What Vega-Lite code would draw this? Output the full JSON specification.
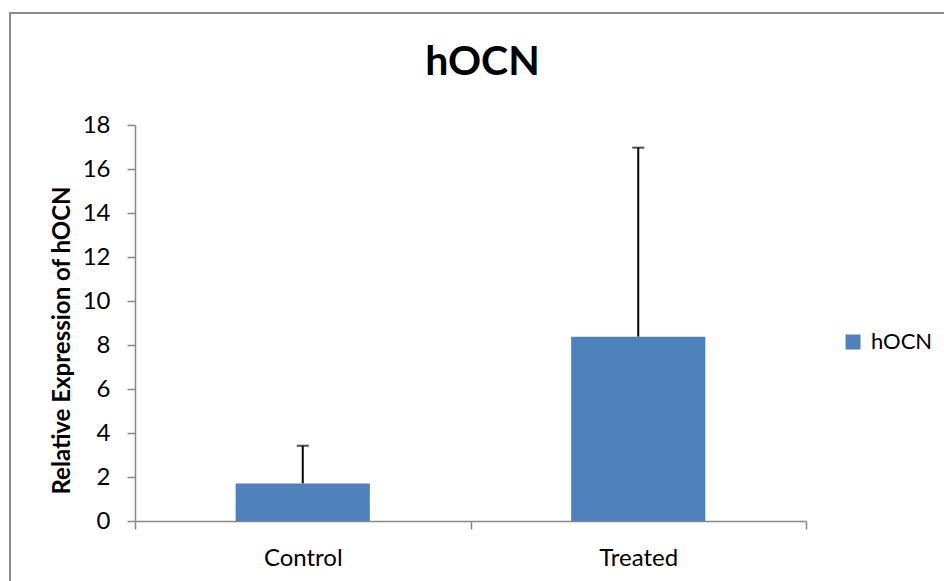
{
  "$schema": "https://vega.github.io/schema/vega-lite/v6.json",
  "autosize": "none",
  "width": 937,
  "height": 571,
  "padding": {"left": 10, "top": 13, "right": -3, "bottom": -3},
  "background": "white",
  "config": {
    "view": {"stroke": "#8a8a8a", "strokeWidth": 2},
    "font": "Lato"
  },
  "title": {
    "text": "hOCN",
    "font": "Lato",
    "fontSize": 41,
    "fontWeight": "bold",
    "color": "#000000",
    "anchor": "middle",
    "baseline": "alphabetic",
    "offset": -65,
    "dy": 38,
    "dx": 4
  },
  "data": {
    "values": [
      {"group": "Control", "series": "hOCN", "value": 1.71, "upper": 3.42},
      {"group": "Treated", "series": "hOCN", "value": 8.38, "upper": 16.97}
    ]
  },
  "encoding": {
    "x": {
      "field": "group",
      "type": "nominal",
      "sort": null,
      "scale": {"range": [125, 796], "paddingInner": 0, "paddingOuter": 0},
      "axis": {
        "title": null,
        "offset": -63,
        "labelAngle": 0,
        "tickBand": "extent",
        "domainColor": "#888888",
        "domainWidth": 1.5,
        "tickColor": "#888888",
        "tickWidth": 1.5,
        "tickSize": 8,
        "labelFont": "Lato",
        "labelFontSize": 24,
        "labelColor": "#000000",
        "labelPadding": 17
      }
    }
  },
  "layer": [
    {
      "mark": {"type": "bar", "width": {"band": 0.4}},
      "encoding": {
        "y": {
          "field": "value",
          "type": "quantitative",
          "scale": {"domain": [0, 18], "range": [508, 112], "nice": false},
          "axis": {
            "values": [0, 2, 4, 6, 8, 10, 12, 14, 16, 18],
            "offset": -125,
            "grid": false,
            "title": "Relative Expression of hOCN",
            "titleFont": "Lato",
            "titleFontSize": 24,
            "titleFontWeight": "bold",
            "titleColor": "#000000",
            "titleAngle": -90,
            "titleAlign": "center",
            "titleBaseline": "middle",
            "titleX": -73,
            "titleY": 327,
            "domainColor": "#888888",
            "domainWidth": 1.5,
            "tickColor": "#888888",
            "tickWidth": 1.5,
            "tickSize": 8,
            "labelFont": "Lato",
            "labelFontSize": 24,
            "labelColor": "#000000",
            "labelPadding": 17
          }
        },
        "color": {
          "field": "series",
          "type": "nominal",
          "scale": {"range": ["#4F81BD"]},
          "legend": {
            "title": null,
            "orient": "none",
            "legendX": 832,
            "legendY": 318,
            "symbolType": "square",
            "symbolSize": 225,
            "symbolStrokeWidth": 0,
            "labelFont": "Lato",
            "labelFontSize": 22,
            "labelColor": "#000000",
            "labelOffset": 7
          }
        }
      }
    },
    {
      "mark": {"type": "rule", "color": "#000000", "strokeWidth": 2},
      "encoding": {
        "y": {"field": "value", "type": "quantitative"},
        "y2": {"field": "upper"}
      }
    },
    {
      "mark": {"type": "tick", "color": "#000000", "orient": "horizontal", "size": 12, "thickness": 2},
      "encoding": {
        "y": {"field": "upper", "type": "quantitative"}
      }
    }
  ]
}
